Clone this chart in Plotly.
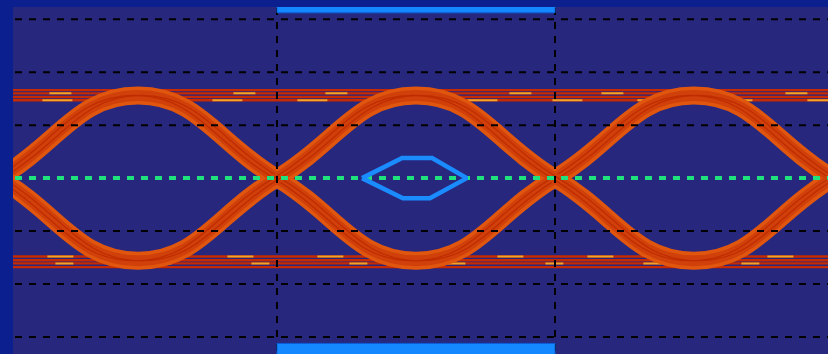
import plotly.graph_objects as go

# ---- data -------------------------------------------------------------
# time in unit intervals (UI), amplitude in mV
bit_times = [-0.5, 0.5, 1.5, 2.5, 3.5]      # sampling instants (bit centres)
edge_times = [0.0, 1.0, 2.0, 3.0]          # transition / crossing instants
pattern_a = [0, 1, 0, 1, 0]
pattern_b = [1, 0, 1, 0, 1]
high_mv = 156
low_mv = -156
crossing_mv = 0
jitter_ui = [-0.012, 0.012]                # edge spread inside the band

# flat "1-1" and "0-0" runs sit at slightly different levels
high_runs_mv = [166, 160, 153, 147]
low_runs_mv = [-148, -155, -161, -168]

# eye mask (hexagon + upper/lower limits)
mask_x = [1.306, 1.450, 1.558, 1.683, 1.550, 1.453, 1.306]
mask_y = [0, 38, 38, 0, -38, -38, 0]
mask_limit_mv = 312
mask_span_ui = [1.0, 2.0]

# graticule
grid_mv = [-300, -200, -100, 100, 200, 300]
grid_ui = [1.0, 2.0]
x_range = [0.0504, 2.982]
y_range = [-332, 323]

# ---- helpers ----------------------------------------------------------
def waveform(pattern, shift=0.0):
    xs, ys = [], []
    for i, b in enumerate(pattern):
        xs.append(bit_times[i] + shift)
        ys.append(high_mv if b else low_mv)
        if i < len(edge_times) and i + 1 < len(pattern):
            xs.append(edge_times[i] + shift)
            ys.append(crossing_mv if pattern[i + 1] != b else ys[-1])
    return xs, ys


fig = go.Figure()

orange = "#e0560e"
red = "#d0400a"
dark_red = "#bf2c02"
highlight = "#f0a428"
SMOOTH = 1.3

# flat runs
for lvl in high_runs_mv + low_runs_mv:
    fig.add_trace(go.Scatter(x=[x_range[0] - 1, x_range[1] + 1], y=[lvl, lvl],
                             mode="lines", line=dict(color="#c52a02", width=2.4),
                             hoverinfo="skip", showlegend=False))
for lvl, dash in [(high_runs_mv[1], "22px,70px"), (high_runs_mv[3], "30px,55px"),
                  (low_runs_mv[0], "26px,64px"), (low_runs_mv[2], "18px,80px")]:
    fig.add_trace(go.Scatter(x=[x_range[0] - 0.2, x_range[1] + 1], y=[lvl, lvl],
                             mode="lines", line=dict(color=highlight, width=2, dash=dash),
                             hoverinfo="skip", showlegend=False))

# transition bands
for pat in (pattern_a, pattern_b):
    xs, ys = waveform(pat)
    fig.add_trace(go.Scatter(x=xs, y=ys, mode="lines",
                             line=dict(color=orange, width=18, shape="spline", smoothing=SMOOTH),
                             hoverinfo="skip", showlegend=False))
for pat in (pattern_a, pattern_b):
    xs, ys = waveform(pat)
    fig.add_trace(go.Scatter(x=xs, y=ys, mode="lines",
                             line=dict(color=red, width=11, shape="spline", smoothing=SMOOTH),
                             hoverinfo="skip", showlegend=False))
    for j in jitter_ui:
        xs, ys = waveform(pat, j)
        fig.add_trace(go.Scatter(x=xs, y=ys, mode="lines",
                                 line=dict(color=dark_red, width=1.2, shape="spline", smoothing=SMOOTH),
                                 hoverinfo="skip", showlegend=False))

# graticule (drawn above the waveform)
for g in grid_mv:
    fig.add_trace(go.Scatter(x=[x_range[0] - 1, x_range[1] + 1], y=[g, g], mode="lines",
                             line=dict(color="#000000", width=2, dash="7px,7px"),
                             hoverinfo="skip", showlegend=False))
for g in grid_ui:
    fig.add_trace(go.Scatter(x=[g, g], y=[y_range[0] - 100, y_range[1] + 100], mode="lines",
                             line=dict(color="#000000", width=2, dash="7px,7px"),
                             hoverinfo="skip", showlegend=False))

# decision threshold
fig.add_trace(go.Scatter(x=[x_range[0] - 1, x_range[1] + 1], y=[crossing_mv, crossing_mv],
                         mode="lines", line=dict(color="#1fe27c", width=4, dash="7px,7px"),
                         hoverinfo="skip", showlegend=False))

# eye mask
fig.add_trace(go.Scatter(x=mask_x, y=mask_y, mode="lines",
                         line=dict(color="#1a8cff", width=4.5),
                         hoverinfo="skip", showlegend=False))
for sign in (1, -1):
    y0 = sign * mask_limit_mv
    y1 = sign * (mask_limit_mv + 200)
    fig.add_trace(go.Scatter(
        x=[mask_span_ui[0], mask_span_ui[1], mask_span_ui[1], mask_span_ui[0], mask_span_ui[0]],
        y=[y0, y0, y1, y1, y0], mode="lines", fill="toself",
        fillcolor="#1488ff", line=dict(color="#0b5fd8", width=1),
        hoverinfo="skip", showlegend=False))

fig.update_layout(
    width=828, height=354,
    margin=dict(l=13, r=0, t=7, b=0),
    paper_bgcolor="#0c1f8e",
    plot_bgcolor="#27277e",
    xaxis=dict(range=x_range, showgrid=False, zeroline=False, showticklabels=False,
               ticks="", showline=False, fixedrange=True),
    yaxis=dict(range=y_range, showgrid=False, zeroline=False, showticklabels=False,
               ticks="", showline=False, fixedrange=True),
)

fig.write_html("out.html", config={"displayModeBar": False})
